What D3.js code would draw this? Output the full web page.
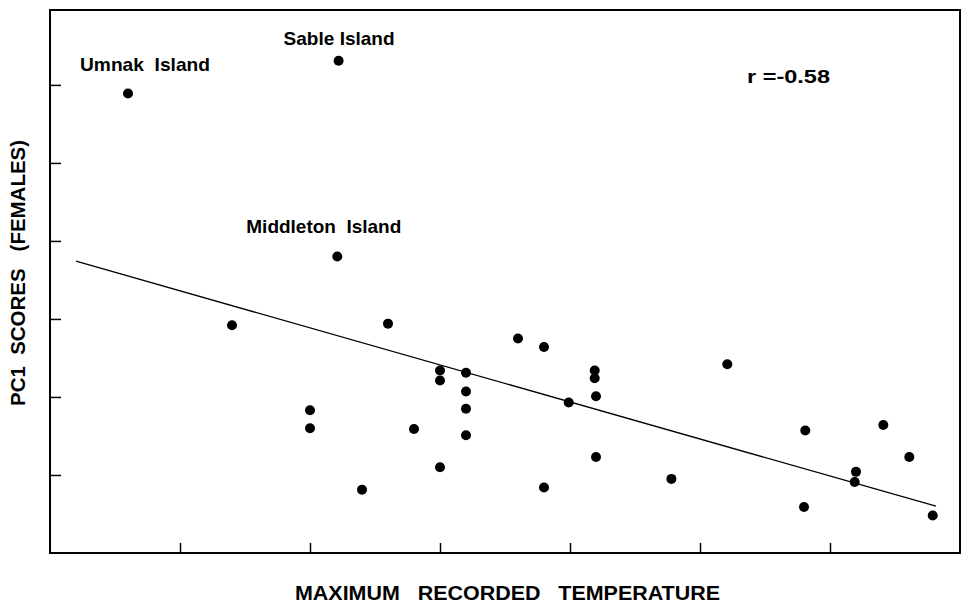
<!DOCTYPE html>
<html>
<head>
<meta charset="utf-8">
<script src="https://cdn.jsdelivr.net/npm/d3@7"></script>
<style>
  body { margin: 0; background: #fff; }
  text { font-family: "Liberation Sans", Arial, sans-serif; font-weight: bold; fill: #000; }
</style>
</head>
<body>
<div id="scatter"></div>
<script>
// Values (axis units = tick intervals, no tick labels printed)
let maxTemp = [0.60, 2.22, 2.21, 1.40, 2.60, 2.00, 2.00, 2.80, 2.40, 3.00, 3.00, 3.00,
               3.20, 3.20, 3.20, 3.20, 3.60, 3.80, 4.19, 4.19, 4.20, 3.99, 4.20, 3.80,
               4.78, 5.21, 5.81, 5.80, 6.20, 6.19, 6.41, 6.61, 6.79];
let pc1Scores = [5.89, 6.31, 3.80, 2.92, 2.94, 1.83, 1.60, 1.59, 0.81, 2.34, 2.21, 1.10,
                 2.31, 2.07, 1.85, 1.51, 2.75, 2.64, 2.34, 2.24, 2.01, 1.93, 1.23, 0.84,
                 0.95, 2.42, 1.57, 0.59, 1.04, 0.91, 1.64, 1.23, 0.48];

// Named outliers
let siteNames = ["Umnak  Island", "Sable Island", "Middleton  Island"];
let siteIndex = [0, 1, 2];

// Fitted line y = a + b*x, drawn between these x values
let fitIntercept = 3.835;
let fitSlope = -0.4747;
let fitRange = [0.2, 6.815];
let corrLabel = "r =-0.58";

let xTicks = [1, 2, 3, 4, 5, 6];
let yTicks = [1, 2, 3, 4, 5, 6];

let width = 962, height = 604;
let margin = { top: 10, right: 2, bottom: 51, left: 50 };

let svg = d3.select("#scatter").append("svg")
    .attr("width", width)
    .attr("height", height);

let xScale = d3.scaleLinear().domain([0, 7]).range([margin.left, width - margin.right]);
let yScale = d3.scaleLinear().domain([0, 6.96]).range([height - margin.bottom, margin.top]);

// inward ticks, no labels
let xAxis = d3.axisBottom(xScale).tickValues(xTicks).tickSize(-10).tickFormat("");
let yAxis = d3.axisLeft(yScale).tickValues(yTicks).tickSize(-11).tickFormat("");

svg.append("g")
    .attr("transform", `translate(0, ${height - margin.bottom})`)
    .call(xAxis)
    .call(g => g.select(".domain").remove())
    .selectAll("line").attr("stroke", "#000").attr("stroke-width", 1.5);

svg.append("g")
    .attr("transform", `translate(${margin.left}, 0)`)
    .call(yAxis)
    .call(g => g.select(".domain").remove())
    .selectAll("line").attr("stroke", "#000").attr("stroke-width", 1.5);

// frame
svg.append("rect")
    .attr("x", margin.left)
    .attr("y", margin.top)
    .attr("width", width - margin.left - margin.right)
    .attr("height", height - margin.top - margin.bottom)
    .attr("fill", "none")
    .attr("stroke", "#000")
    .attr("stroke-width", 2);

// regression line
svg.append("line")
    .attr("x1", xScale(fitRange[0]))
    .attr("y1", yScale(fitIntercept + fitSlope * fitRange[0]))
    .attr("x2", xScale(fitRange[1]))
    .attr("y2", yScale(fitIntercept + fitSlope * fitRange[1]))
    .attr("stroke", "#000")
    .attr("stroke-width", 1.3);

// points
svg.append("g").selectAll("circle")
    .data(maxTemp)
    .enter()
    .append("circle")
    .attr("cx", d => xScale(d))
    .attr("cy", (d, i) => yScale(pc1Scores[i]))
    .attr("r", 5)
    .attr("fill", "#000");

// outlier labels: [dx from point, dy from point, width]
let labelOffsets = [[-48, -22, 130], [-55, -16, 111], [-91, -24, 155]];
svg.append("g").selectAll("text")
    .data(siteIndex)
    .enter()
    .append("text")
    .attr("x", (d, i) => xScale(maxTemp[d]) + labelOffsets[i][0])
    .attr("y", (d, i) => yScale(pc1Scores[d]) + labelOffsets[i][1])
    .attr("font-size", "19px")
    .attr("textLength", (d, i) => labelOffsets[i][2])
    .attr("lengthAdjust", "spacingAndGlyphs")
    .style("white-space", "pre")
    .text((d, i) => siteNames[i]);

svg.append("text")
    .attr("x", 747)
    .attr("y", 83)
    .attr("font-size", "19px")
    .attr("textLength", 83)
    .attr("lengthAdjust", "spacingAndGlyphs")
    .text(corrLabel);

// axis titles
svg.append("text")
    .attr("x", 295)
    .attr("y", 600)
    .attr("font-size", "20px")
    .attr("textLength", 425)
    .attr("lengthAdjust", "spacingAndGlyphs")
    .style("white-space", "pre")
    .text("MAXIMUM   RECORDED   TEMPERATURE");

svg.append("text")
    .attr("transform", "translate(25, 273) rotate(-90)")
    .attr("text-anchor", "middle")
    .attr("font-size", "20px")
    .attr("textLength", 266)
    .attr("lengthAdjust", "spacingAndGlyphs")
    .style("white-space", "pre")
    .text("PC1  SCORES   (FEMALES)");
</script>
</body>
</html>
